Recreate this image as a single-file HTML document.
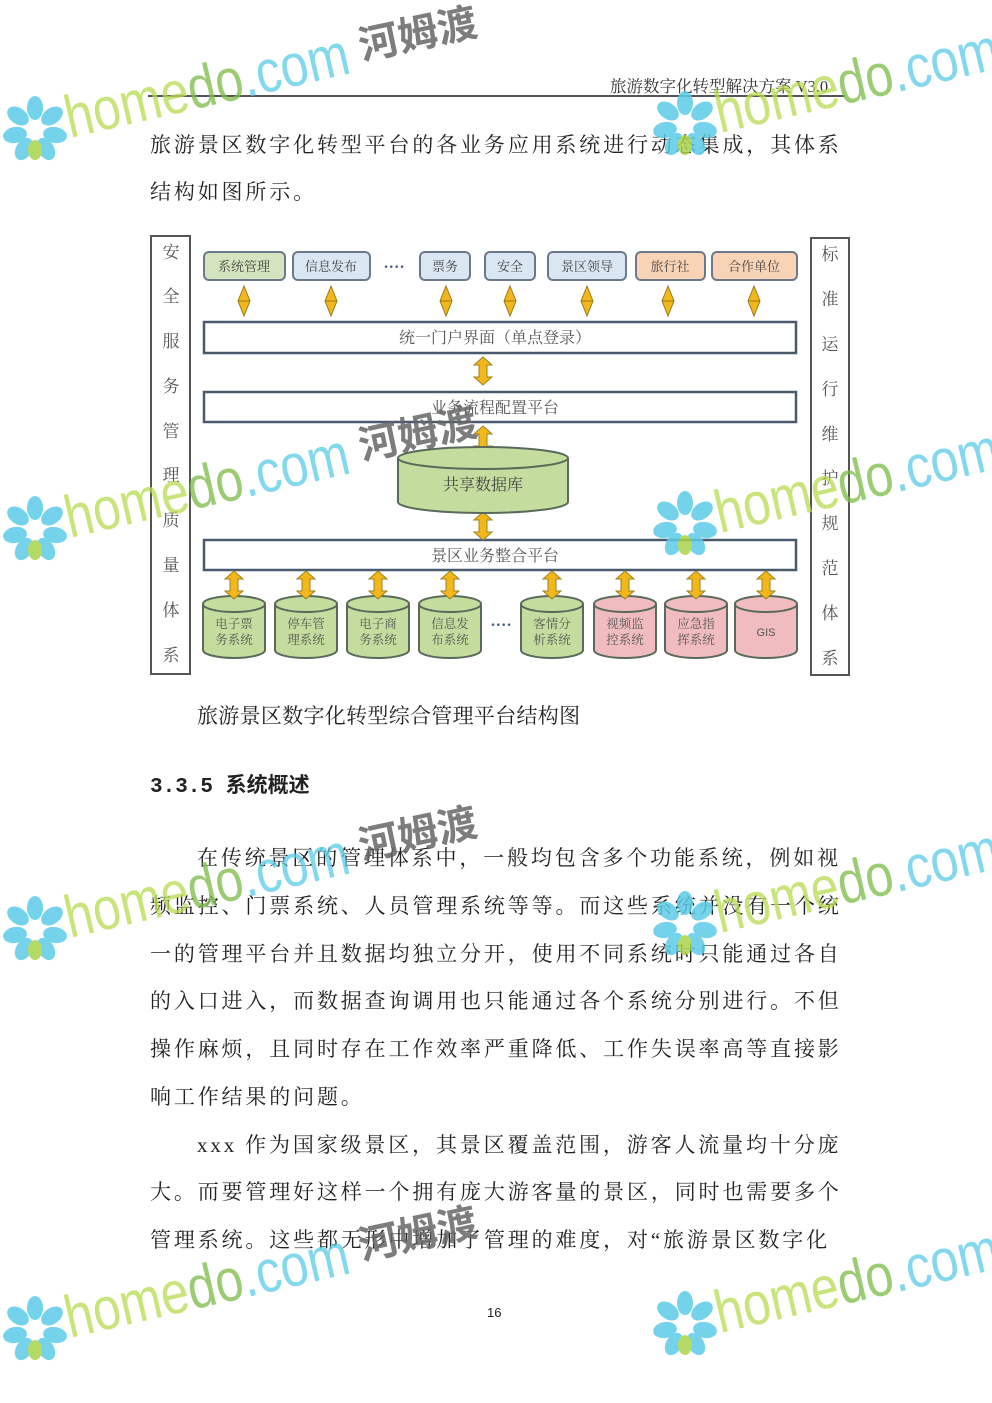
<!DOCTYPE html>
<html><head><meta charset="utf-8"><style>
body{margin:0;background:#fff;}
.pg{position:relative;width:992px;height:1403px;overflow:hidden;background:#fff;font-family:"Liberation Serif","Noto Serif CJK SC",serif;color:#222;}
.l{position:absolute;left:150px;font-size:21px;letter-spacing:2.85px;line-height:24px;white-space:nowrap;}
svg{position:absolute;left:0;top:0;}
</style></head><body><div class="pg">
<div style="position:absolute;left:610px;top:73px;font-size:16.5px;color:#333;white-space:nowrap;">旅游数字化转型解决方案 V3.0</div>
<div style="position:absolute;left:148px;top:95px;width:697px;height:1.5px;background:#555;"></div>
<div class="l" style="top:133px">旅游景区数字化转型平台的各业务应用系统进行动态集成，其体系</div>
<div class="l" style="top:180px">结构如图所示。</div>
<div class="l" style="top:704px;left:197px;letter-spacing:0.3px">旅游景区数字化转型综合管理平台结构图</div>
<div class="l" style="top:776px;font-weight:bold;letter-spacing:0px;font-family:'Liberation Mono','Noto Sans CJK SC',sans-serif">3.3.5 系统概述</div>
<div class="l" style="top:846px;left:197px">在传统景区的管理体系中，一般均包含多个功能系统，例如视</div>
<div class="l" style="top:894px">频监控、门票系统、人员管理系统等等。而这些系统并没有一个统</div>
<div class="l" style="top:942px">一的管理平台并且数据均独立分开，使用不同系统时只能通过各自</div>
<div class="l" style="top:989px">的入口进入，而数据查询调用也只能通过各个系统分别进行。不但</div>
<div class="l" style="top:1037px">操作麻烦，且同时存在工作效率严重降低、工作失误率高等直接影</div>
<div class="l" style="top:1085px">响工作结果的问题。</div>
<div class="l" style="top:1133px;left:197px">xxx 作为国家级景区，其景区覆盖范围，游客人流量均十分庞</div>
<div class="l" style="top:1180px">大。而要管理好这样一个拥有庞大游客量的景区，同时也需要多个</div>
<div class="l" style="top:1228px">管理系统。这些都无形中增加了管理的难度，对“旅游景区数字化</div>
<div style="position:absolute;left:487px;top:1305px;font-size:13px;font-family:'Liberation Sans',sans-serif">16</div>

<svg width="992" height="1403" viewBox="0 0 992 1403" font-family="Liberation Serif,Noto Serif CJK SC,serif">
<defs>
<g id="dia"><path d="M0,-15 L6,0 L0,15 L-6,0Z" fill="#f2b81a" stroke="#9a7a20" stroke-width="1"/><line x1="-6" y1="0" x2="6" y2="0" stroke="#9a7a20"/></g>
<g id="arr"><path d="M0,-14 L9,-6 L4,-6 L4,6 L9,6 L0,14 L-9,6 L-4,6 L-4,-6 L-9,-6Z" fill="#f2b81a" stroke="#a08020" stroke-width="1"/></g>
</defs>
<rect x="151" y="236" width="39" height="438" fill="#fff" stroke="#555" stroke-width="2"/>
<rect x="811" y="238" width="38" height="437" fill="#fff" stroke="#555" stroke-width="2"/>
<g font-size="17" fill="#555" text-anchor="middle">
<text x="171" y="258">安</text><text x="171" y="302">全</text><text x="171" y="347">服</text><text x="171" y="392">务</text><text x="171" y="437">管</text><text x="171" y="481">理</text><text x="171" y="526">质</text><text x="171" y="571">量</text><text x="171" y="616">体</text><text x="171" y="661">系</text>
<text x="830" y="260">标</text><text x="830" y="305">准</text><text x="830" y="350">运</text><text x="830" y="395">行</text><text x="830" y="440">维</text><text x="830" y="484">护</text><text x="830" y="529">规</text><text x="830" y="574">范</text><text x="830" y="619">体</text><text x="830" y="664">系</text>
</g>
<g stroke="#6a7a8a" stroke-width="2" font-size="13" text-anchor="middle">
<rect x="204" y="252" width="81" height="28" rx="5" fill="#d4e4be"/><text x="244" y="271" fill="#444" stroke="none">系统管理</text>
<rect x="293" y="252" width="77" height="28" rx="5" fill="#dbe6f3"/><text x="331" y="271" fill="#444" stroke="none">信息发布</text>
<rect x="420" y="252" width="50" height="28" rx="5" fill="#dbe6f3"/><text x="445" y="271" fill="#444" stroke="none">票务</text>
<rect x="485" y="252" width="50" height="28" rx="5" fill="#dbe6f3"/><text x="510" y="271" fill="#444" stroke="none">安全</text>
<rect x="548" y="252" width="78" height="28" rx="5" fill="#dbe6f3"/><text x="587" y="271" fill="#444" stroke="none">景区领导</text>
<rect x="636" y="252" width="69" height="28" rx="5" fill="#f8d3b6"/><text x="670" y="271" fill="#444" stroke="none">旅行社</text>
<rect x="712" y="252" width="85" height="28" rx="5" fill="#f8d3b6"/><text x="754" y="271" fill="#444" stroke="none">合作单位</text>
</g>
<text x="394" y="272" font-size="16" fill="#4a5a8a" text-anchor="middle" font-weight="bold">····</text>
<use href="#dia" x="244" y="301"/><use href="#dia" x="331" y="301"/><use href="#dia" x="446" y="301"/><use href="#dia" x="510" y="301"/><use href="#dia" x="587" y="301"/><use href="#dia" x="668" y="301"/><use href="#dia" x="754" y="301"/>
<g stroke="#4a5a6e" stroke-width="2.5" fill="#fff">
<rect x="204" y="322" width="592" height="31"/>
<rect x="204" y="392" width="592" height="30"/>
<rect x="204" y="540" width="592" height="30"/>
</g>
<g font-size="16" fill="#555" text-anchor="middle">
<text x="495" y="343">统一门户界面（单点登录）</text>
<text x="495" y="413">业务流程配置平台</text>
<text x="495" y="561">景区业务整合平台</text>
</g>
<use href="#arr" x="483" y="371"/><use href="#arr" x="483" y="440"/><use href="#arr" x="483" y="526"/>
<path d="M398,458 L398,502 A85,11 0 0 0 568,502 L568,458" fill="#c5dc9f" stroke="#5a6a5a" stroke-width="2"/>
<ellipse cx="483" cy="458" rx="85" ry="11" fill="#c5dc9f" stroke="#5a6a5a" stroke-width="2"/>
<text x="483" y="490" font-size="16" text-anchor="middle" fill="#444">共享数据库</text>
<g stroke="#5a6a5a" stroke-width="2">
<path d="M203,604 L203,650 A31,8 0 0 0 265,650 L265,604" fill="#c5dc9f"/><ellipse cx="234" cy="604" rx="31" ry="8" fill="#c5dc9f"/>
<path d="M275,604 L275,650 A31,8 0 0 0 337,650 L337,604" fill="#c5dc9f"/><ellipse cx="306" cy="604" rx="31" ry="8" fill="#c5dc9f"/>
<path d="M347,604 L347,650 A31,8 0 0 0 409,650 L409,604" fill="#c5dc9f"/><ellipse cx="378" cy="604" rx="31" ry="8" fill="#c5dc9f"/>
<path d="M419,604 L419,650 A31,8 0 0 0 481,650 L481,604" fill="#c5dc9f"/><ellipse cx="450" cy="604" rx="31" ry="8" fill="#c5dc9f"/>
<path d="M521,604 L521,650 A31,8 0 0 0 583,650 L583,604" fill="#c5dc9f"/><ellipse cx="552" cy="604" rx="31" ry="8" fill="#c5dc9f"/>
<path d="M594,604 L594,650 A31,8 0 0 0 656,650 L656,604" fill="#f0bcc0"/><ellipse cx="625" cy="604" rx="31" ry="8" fill="#f0bcc0"/>
<path d="M665,604 L665,650 A31,8 0 0 0 727,650 L727,604" fill="#f0bcc0"/><ellipse cx="696" cy="604" rx="31" ry="8" fill="#f0bcc0"/>
<path d="M735,604 L735,650 A31,8 0 0 0 797,650 L797,604" fill="#f0bcc0"/><ellipse cx="766" cy="604" rx="31" ry="8" fill="#f0bcc0"/>
</g>
<g font-size="12.5" fill="#555" text-anchor="middle">
<text x="234" y="628">电子票</text><text x="234" y="644">务系统</text>
<text x="306" y="628">停车管</text><text x="306" y="644">理系统</text>
<text x="378" y="628">电子商</text><text x="378" y="644">务系统</text>
<text x="450" y="628">信息发</text><text x="450" y="644">布系统</text>
<text x="552" y="628">客情分</text><text x="552" y="644">析系统</text>
<text x="625" y="628">视频监</text><text x="625" y="644">控系统</text>
<text x="696" y="628">应急指</text><text x="696" y="644">挥系统</text>
<text x="766" y="636" font-family="Liberation Sans,sans-serif" font-size="11">GIS</text>
</g>
<text x="501" y="630" font-size="16" fill="#4a5a8a" text-anchor="middle" font-weight="bold">····</text>
<use href="#arr" x="234" y="585"/><use href="#arr" x="306" y="585"/><use href="#arr" x="378" y="585"/><use href="#arr" x="450" y="585"/><use href="#arr" x="552" y="585"/><use href="#arr" x="625" y="585"/><use href="#arr" x="696" y="585"/><use href="#arr" x="766" y="585"/>

<defs>
<g id="flw">
<g fill="#5ccbe8">
<ellipse cx="0" cy="-20" rx="8" ry="12"/><ellipse cx="17" cy="-12" rx="8" ry="12" transform="rotate(55 17 -12)"/><ellipse cx="20" cy="7" rx="8" ry="12" transform="rotate(100 20 7)"/><ellipse cx="11" cy="21" rx="8" ry="12" transform="rotate(150 11 21)"/><ellipse cx="-11" cy="21" rx="8" ry="12" transform="rotate(-150 -11 21)"/><ellipse cx="-20" cy="7" rx="8" ry="12" transform="rotate(-100 -20 7)"/><ellipse cx="-17" cy="-12" rx="8" ry="12" transform="rotate(-55 -17 -12)"/>
</g>
<ellipse cx="0" cy="22" rx="7" ry="10" fill="#a8d44a"/>
</g>
<g id="wm">
<use href="#flw" x="35" y="128"/>
<text x="70" y="138" transform="rotate(-13 70 138)" font-family="Liberation Sans,sans-serif" font-size="60" textLength="290" lengthAdjust="spacingAndGlyphs" fill="#b8dc50" opacity="0.9">home<tspan fill="#7cbc4a">do</tspan><tspan fill="#5ccbe8">.com</tspan></text>
</g>
<g id="cn"><text x="0" y="0" transform="rotate(-12)" font-family="Noto Sans CJK SC,sans-serif" font-weight="bold" font-size="40" fill="#666">河姆渡</text></g>
</defs>
<g opacity="0.85">
<use href="#wm" x="0" y="0"/><use href="#wm" x="650" y="-5"/>
<use href="#wm" x="0" y="400"/><use href="#wm" x="650" y="395"/>
<use href="#wm" x="0" y="800"/><use href="#wm" x="650" y="795"/>
<use href="#wm" x="0" y="1200"/><use href="#wm" x="650" y="1195"/>
<use href="#cn" x="362" y="60"/><use href="#cn" x="362" y="460"/><use href="#cn" x="362" y="860"/><use href="#cn" x="362" y="1260"/>
</g>
</svg>
</div></body></html>
